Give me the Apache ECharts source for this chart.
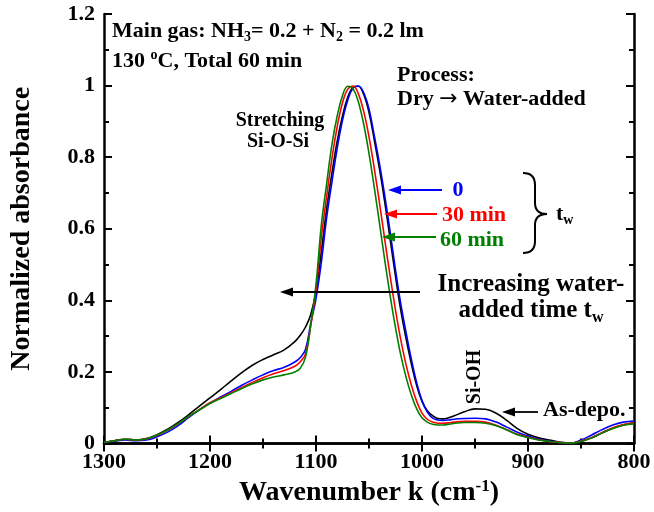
<!DOCTYPE html>
<html><head><meta charset="utf-8">
<script src="https://cdn.jsdelivr.net/npm/echarts@6/dist/echarts.min.js"></script>
<style>html,body{margin:0;padding:0;background:#fff}#c{width:654px;height:512px}</style>
</head><body><div id="c"></div>
<script>
// Wavenumber (cm^-1)
const wavenumber = [1300,1290,1280,1270,1260,1250,1240,1230,1220,1210,1200,1190,1180,1170,1160,1150,1140,1130,1120,
  1115,1110,1105,1100,1095,1090,1085,1080,1075,1070,1065,1060,1055,1050,1045,1040,1035,1030,1025,1020,1015,1010,1005,1000,995,990,985,980,975,
  970,960,950,940,930,920,910,900,890,880,870,860,850,840,830,820,810,800];
// As-deposited (black)
const asDepo = [0.003,0.008,0.012,0.010,0.014,0.025,0.040,0.059,0.081,0.105,0.128,0.151,0.175,0.198,0.219,0.235,0.248,0.262,0.285,
  0.302,0.325,0.360,0.425,0.535,0.655,0.755,0.845,0.915,0.968,0.995,0.998,0.975,0.925,0.848,0.765,0.672,0.570,0.467,0.372,0.293,0.222,0.162,0.118,0.092,0.078,0.070,0.069,0.072,
  0.077,0.089,0.097,0.096,0.085,0.065,0.042,0.026,0.016,0.010,0.004,0.001,0.006,0.016,0.030,0.043,0.052,0.058];
// t_w = 0 (blue)
const tw0 = [0.003,0.007,0.010,0.008,0.010,0.019,0.032,0.050,0.073,0.094,0.113,0.130,0.146,0.163,0.178,0.192,0.204,0.213,0.228,
  0.240,0.262,0.335,0.405,0.505,0.630,0.730,0.825,0.903,0.960,0.993,0.999,0.980,0.935,0.860,0.780,0.690,0.590,0.485,0.390,0.310,0.235,0.170,0.120,0.088,0.071,0.066,0.065,0.066,
  0.068,0.070,0.071,0.069,0.060,0.046,0.032,0.021,0.013,0.007,0.003,0.001,0.010,0.024,0.039,0.052,0.060,0.063];
// t_w = 30 min (red)
const tw30 = [0.003,0.008,0.012,0.010,0.013,0.023,0.037,0.055,0.076,0.095,0.114,0.128,0.142,0.157,0.171,0.184,0.195,0.204,0.216,
  0.228,0.250,0.330,0.430,0.575,0.690,0.796,0.885,0.952,0.990,0.999,0.977,0.928,0.857,0.768,0.670,0.567,0.467,0.373,0.290,0.220,0.163,0.118,0.085,0.068,0.060,0.057,0.057,0.058,
  0.060,0.062,0.062,0.060,0.051,0.039,0.026,0.018,0.011,0.006,0.003,0.001,0.007,0.017,0.031,0.044,0.053,0.058];
// t_w = 60 min (green)
const tw60 = [0.003,0.008,0.012,0.010,0.013,0.024,0.038,0.056,0.076,0.094,0.112,0.126,0.140,0.154,0.167,0.178,0.186,0.192,0.200,
  0.210,0.240,0.330,0.445,0.610,0.725,0.835,0.915,0.972,0.998,0.991,0.954,0.892,0.810,0.715,0.613,0.510,0.412,0.324,0.247,0.185,0.135,0.097,0.072,0.060,0.054,0.052,0.052,0.054,
  0.056,0.059,0.059,0.057,0.050,0.038,0.025,0.017,0.010,0.006,0.003,0.001,0.006,0.016,0.030,0.042,0.051,0.055];

const FONT = 'Liberation Serif';
const pair = (ys) => wavenumber.map((x, i) => [x, ys[i]]);

const chart = echarts.init(document.getElementById('c'), null, {renderer: 'canvas'});
const axisLine = {show: true, lineStyle: {color: '#000', width: 2.5}};
const tick = {show: true, inside: true, length: 8, lineStyle: {color: '#000', width: 2}};
const minor = {show: true, splitNumber: 2, length: 5, lineStyle: {color: '#000', width: 2}};
const lbl = {color: '#000', fontFamily: FONT, fontWeight: 'bold', fontSize: 22, formatter: (v) => String(v)};

function mkSeries(name, ys, color) {
  return {name, type: 'line', data: pair(ys), showSymbol: false, smooth: 0.4,
    lineStyle: {color, width: 1.6}, itemStyle: {color}, z: 3};
}

function arrow(x1, xt, y, color, w) {
  return [
    {type: 'line', shape: {x1: x1, y1: y, x2: xt + 8, y2: y}, style: {stroke: color, lineWidth: w || 1.8}, z: 10},
    {type: 'polygon', shape: {points: [[xt, y], [xt + 13, y - 4.5], [xt + 13, y + 4.5]]}, style: {fill: color}, z: 10}
  ];
}
const F22 = 'bold 22px "Liberation Serif"';
const F14 = 'bold 14px "Liberation Serif"';
const F25 = 'bold 25px "Liberation Serif"';
const txt = (x, y, text, opts) => Object.assign({type: 'text', x, y, z: 10,
  style: Object.assign({text, fill: '#000', font: F22, textVerticalAlign: 'middle'}, opts || {})});
const bz = (x1, y1, cx, cy, x2, y2) => ({type: 'bezierCurve', z: 10,
  shape: {x1, y1, cpx1: cx, cpy1: cy, x2, y2}, style: {stroke: '#000', lineWidth: 2, fill: null}});
const ln = (x1, y1, x2, y2) => ({type: 'line', z: 10, shape: {x1, y1, x2, y2}, style: {stroke: '#000', lineWidth: 2}});
const richBase = {
  b: {font: F22, fill: '#000', lineHeight: 26},
  s: {font: F14, fill: '#000', lineHeight: 26, padding: [12, 0, 0, 0]},
  u: {font: F14, fill: '#000', lineHeight: 26, padding: [0, 0, 12, 0]},
  a: {font: '22px "DejaVu Sans"', fill: '#000', lineHeight: 26},
  B: {font: F25, fill: '#000', lineHeight: 28},
  S: {font: 'bold 16px "Liberation Serif"', fill: '#000', lineHeight: 28, padding: [13, 0, 0, 0]}
};

chart.setOption({
  animation: false,
  backgroundColor: '#fff',
  grid: {left: 101, right: 20, top: 14, bottom: 68},
  xAxis: [{
    type: 'value', min: 800, max: 1300, interval: 100, inverse: true,
    axisLine, axisTick: tick, minorTick: minor, splitLine: {show: false},
    axisLabel: Object.assign({margin: 8}, lbl),
    name: '{a|Wavenumber k (cm}{s|-1}{a|)}', nameLocation: 'middle', nameGap: 34,
    nameTextStyle: {rich: {
      a: {fontFamily: FONT, fontWeight: 'bold', fontSize: 28, color: '#000'},
      s: {fontFamily: FONT, fontWeight: 'bold', fontSize: 17, color: '#000', padding: [0, 0, 12, 0]}
    }}
  }, {
    type: 'value', min: 800, max: 1300, interval: 100, inverse: true, position: 'top',
    axisLine, axisTick: tick, minorTick: minor, splitLine: {show: false}, axisLabel: {show: false}
  }],
  yAxis: [{
    type: 'value', min: 0, max: 1.2, interval: 0.2,
    axisLine, axisTick: tick, minorTick: minor, splitLine: {show: false},
    axisLabel: Object.assign({margin: 9}, lbl),
    name: 'Normalized absorbance', nameLocation: 'middle', nameGap: 68,
    nameTextStyle: {fontFamily: FONT, fontWeight: 'bold', fontSize: 28, color: '#000'}
  }, {
    type: 'value', min: 0, max: 1.2, interval: 0.2, position: 'right',
    axisLine, axisTick: tick, minorTick: minor, splitLine: {show: false}, axisLabel: {show: false}
  }],
  series: [
    mkSeries('As-depo.', asDepo, '#000000'),
    mkSeries('0', tw0, '#0000ff'),
    mkSeries('30 min', tw30, '#ff0000'),
    mkSeries('60 min', tw60, '#008000')
  ],
  graphic: [
    {type: 'text', x: 112, y: 31, z: 10, style: {
      text: '{b|Main gas: NH}{s|3}{b|= 0.2 + N}{s|2}{b| = 0.2 lm}', textVerticalAlign: 'middle', rich: richBase}},
    {type: 'text', x: 112, y: 61, z: 10, style: {
      text: '{b|130 }{u|o}{b|C, Total 60 min}', textVerticalAlign: 'middle', rich: richBase}},
    txt(397, 75, 'Process:'),
    {type: 'text', x: 397, y: 99, z: 10, style: {
      text: '{b|Dry }{a|\u2192}{b| Water-added}', textVerticalAlign: 'middle', rich: richBase}},
    txt(280, 121, 'Stretching', {textAlign: 'center', font: 'bold 20px "Liberation Serif"'}),
    txt(278, 142, 'Si-O-Si', {textAlign: 'center', font: 'bold 20px "Liberation Serif"'}),
    txt(458, 190, '0', {textAlign: 'center', fill: '#0000ff'}),
    txt(474, 215, '30 min', {textAlign: 'center', fill: '#ff0000'}),
    txt(472, 240, '60 min', {textAlign: 'center', fill: '#008000'}),
    ...arrow(442, 388, 190, '#0000ff'),
    ...arrow(437, 384, 214, '#ff0000'),
    ...arrow(436, 382, 237, '#008000'),
    bz(523, 173, 535, 173, 535, 185), ln(535, 185, 535, 203), bz(535, 203, 535, 214, 547, 214),
    bz(547, 214, 535, 214, 535, 225), ln(535, 225, 535, 241), bz(535, 241, 535, 253, 523, 253),
    {type: 'text', x: 556, y: 214, z: 10, style: {
      text: '{b|t}{s|w}', textVerticalAlign: 'middle', rich: richBase}},
    ...arrow(420, 280, 292, '#000', 2),
    txt(531, 285, 'Increasing water-', {textAlign: 'center', font: F25}),
    {type: 'text', x: 531, y: 311, z: 10, style: {
      text: '{B|added time t}{S|w}', textAlign: 'center', textVerticalAlign: 'middle', rich: richBase}},
    {type: 'text', x: 475, y: 377, rotation: Math.PI / 2, z: 10, style: {
      text: 'Si-OH', textAlign: 'center', textVerticalAlign: 'middle', fill: '#000', font: 'bold 20px "Liberation Serif"'}},
    ...arrow(538, 502, 412, '#000', 1.8),
    txt(543, 410, 'As-depo.')
  ]
});
</script></body></html>
